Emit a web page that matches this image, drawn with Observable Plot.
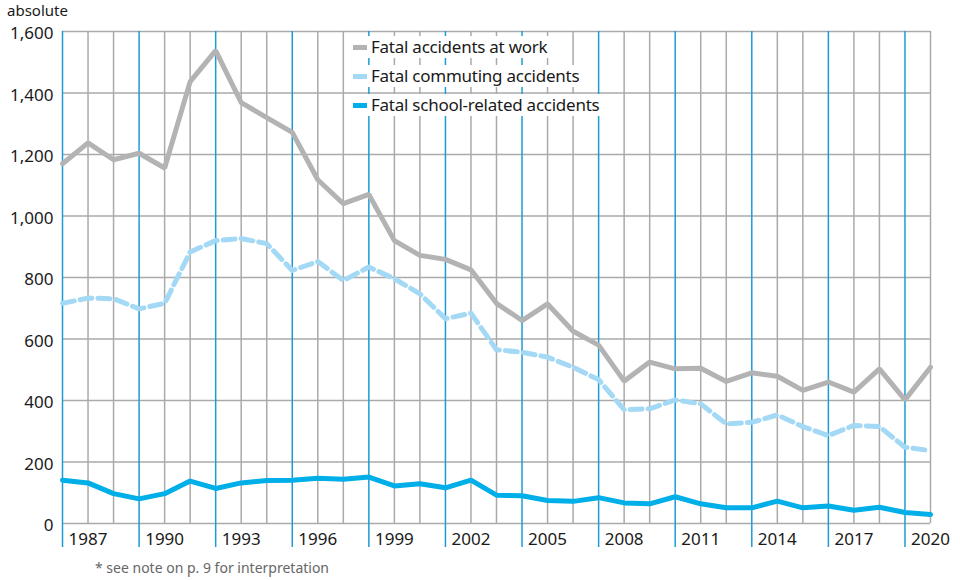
<!DOCTYPE html>
<html><head><meta charset="utf-8">
<script src="https://cdn.jsdelivr.net/npm/d3@7"></script>
<script src="https://cdn.jsdelivr.net/npm/@observablehq/plot@0.6"></script>
<style>
body{margin:0;background:#fff;font-family:"Noto Sans",sans-serif;}
#wrap{position:relative;width:960px;height:580px;}
#wrap svg{position:absolute;left:0;top:0;}
#wrap svg text{font-size:17px;fill:#1a1a1a;}
.ylab{position:absolute;left:7px;top:0px;font-size:15px;line-height:normal;color:#1a1a1a;}
.caption{position:absolute;left:95px;top:560px;font-size:14px;line-height:16px;color:#666;}
.legend{position:absolute;left:350px;top:36px;}
.row{display:flex;align-items:center;background:#fff;height:22px;margin-bottom:7px;padding:0 5px 0 3px;width:max-content}
.sw{width:14px;height:5px;margin-right:4px}
.row span{font-size:17px;color:#1a1a1a;line-height:22px;letter-spacing:-0.25px}
</style></head><body><div id="wrap"></div>
<script>
const years=[1986,1987,1988,1989,1990,1991,1992,1993,1994,1995,1996,1997,1998,1999,2000,2001,2002,2003,2004,2005,2006,2007,2008,2009,2010,2011,2012,2013,2014,2015,2016,2017,2018,2019,2020];
const work=[1170,1238,1183,1204,1156,1437,1538,1369,1320,1272,1118,1040,1070,920,872,859,825,716,660,714,625,580,463,525,503,505,462,490,479,433,460,427,503,402,508];
const commuting=[716,733,731,698,716,883,920,927,910,823,852,790,834,796,747,666,684,565,557,541,508,468,370,373,402,389,324,329,353,315,286,319,315,248,237];
const school=[141,132,97,80,97,138,114,132,140,141,147,144,151,122,129,116,141,92,90,75,72,84,67,64,87,64,51,51,73,51,57,43,53,36,29];
const blueYears=[1986,1989,1992,1995,1998,2001,2004,2007,2010,2013,2016,2019];
const tickYears=[1987,1990,1993,1996,1999,2002,2005,2008,2011,2014,2017,2020];
const yTicks=[0,200,400,600,800,1000,1200,1400,1600];
const seriesNames=["Fatal accidents at work","Fatal commuting accidents","Fatal school-related accidents"];
const seriesColors=["#b3b3b3","#a3d9f5","#00aee8"];
const yLabel="absolute";
const captionText="* see note on p. 9 for interpretation";

const grayYears=years.filter(y=>!blueYears.includes(y));
const rows=[];
years.forEach((yr,i)=>{
  rows.push({year:yr,value:work[i],series:seriesNames[0]});
  rows.push({year:yr,value:commuting[i],series:seriesNames[1]});
  rows.push({year:yr,value:school[i],series:seriesNames[2]});
});
const bySeries=s=>rows.filter(r=>r.series===s);

const chart=Plot.plot({
  width:960,height:580,
  marginLeft:62,marginRight:30,marginTop:31,marginBottom:57,
  style:{fontFamily:"Noto Sans, sans-serif",fontSize:"17px",color:"#1a1a1a",background:"transparent"},
  x:{domain:[1986,2020]},
  y:{domain:[0,1600]},
  marks:[
    Plot.ruleY(yTicks,{stroke:"#aaa",strokeWidth:1.5}),
    Plot.ruleX(grayYears,{y1:0,y2:1600,stroke:"#aaa",strokeWidth:1.5}),
    Plot.ruleX(blueYears,{y1:0,y2:1600,stroke:"#1d9bd7",strokeWidth:1.5}),
    Plot.axisX({ticks:blueYears,tickSize:24,tickFormat:()=>"",stroke:"#1d9bd7",strokeWidth:1.5,strokeOpacity:1,label:null}),
    Plot.axisY({ticks:yTicks,tickSize:0,tickPadding:9,dy:2.5,tickFormat:d3.format(","),label:null}),
    Plot.axisX({ticks:tickYears,tickSize:0,tickPadding:9,tickFormat:d=>String(d),label:null}),
    Plot.line(bySeries(seriesNames[0]),{x:"year",y:"value",stroke:seriesColors[0],strokeWidth:5,strokeLinejoin:"miter"}),
    Plot.line(bySeries(seriesNames[1]),{x:"year",y:"value",stroke:seriesColors[1],strokeWidth:5,strokeDasharray:"12,6"}),
    Plot.line(bySeries(seriesNames[2]),{x:"year",y:"value",stroke:seriesColors[2],strokeWidth:5,strokeLinejoin:"miter"})
  ]
});
const wrap=document.getElementById("wrap");
wrap.appendChild(chart);
const yl=document.createElement("div");yl.className="ylab";yl.textContent=yLabel;wrap.appendChild(yl);
const cap=document.createElement("div");cap.className="caption";cap.textContent=captionText;wrap.appendChild(cap);
const leg=document.createElement("div");leg.className="legend";
seriesNames.forEach((n,i)=>{
  const r=document.createElement("div");r.className="row";
  const s=document.createElement("div");s.className="sw";s.style.background=seriesColors[i];
  const t=document.createElement("span");t.textContent=n;
  r.appendChild(s);r.appendChild(t);leg.appendChild(r);
});
wrap.appendChild(leg);
</script></body></html>
